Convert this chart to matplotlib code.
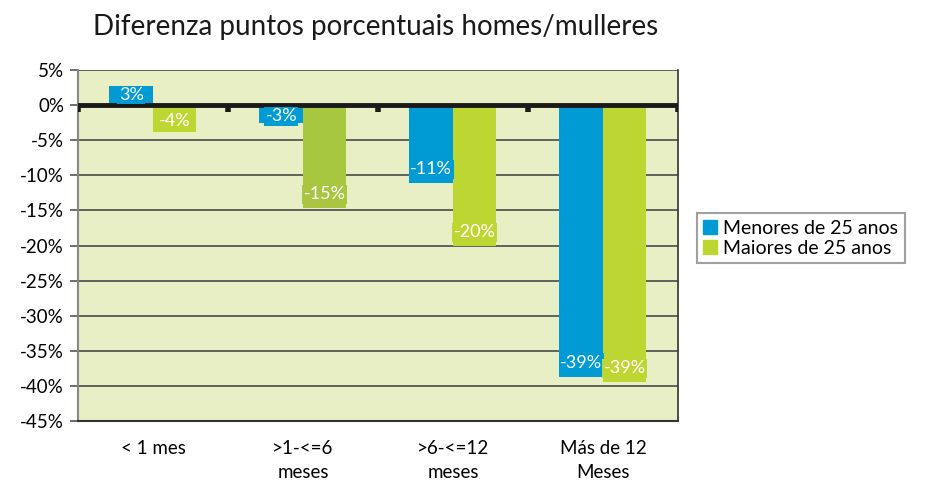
import matplotlib
matplotlib.use("Agg")
import matplotlib.pyplot as plt
import numpy as np
from matplotlib.patches import Patch

plt.rcParams['font.family'] = ['Lato', 'DejaVu Sans']

categories = ["< 1 mes", ">1-<=6\nmeses", ">6-<=12\nmeses", "Más de 12\nMeses"]
menores = [2.7, -2.6, -11.1, -38.7]
maiores = [-3.8, -14.7, -20.1, -39.5]
menores_labels = ["3%", "-3%", "-11%", "-39%"]
maiores_labels = ["-4%", "-15%", "-20%", "-39%"]
series_names = ["Menores de 25 anos", "Maiores de 25 anos"]
yticks = [5, 0, -5, -10, -15, -20, -25, -30, -35, -40, -45]

blue = "#009bd5"
green = "#bdd631"
green_dark = "#a6c73f"
maiores_colors = [green, green_dark, green, green]

fig = plt.figure(figsize=(9.25, 4.86), dpi=100)
ax = fig.add_axes([0.0843, 0.1337, 0.6486, 0.722])
ax.set_facecolor("#e8efc5")

x = np.arange(len(categories))
w = 0.29
b1 = ax.bar(x - w / 2, menores, w, color=blue, label=series_names[0], zorder=3)
b2 = ax.bar(x + w / 2, maiores, w, color=maiores_colors, label=series_names[1], zorder=3)

ax.set_xlim(-0.5, len(categories) - 0.5)
ax.set_ylim(-45, 5)
ax.set_yticks(yticks)
ax.set_yticklabels([f"{t}%" for t in yticks], fontsize=13.5)
ax.yaxis.grid(True, color="#4a4a4a", linewidth=1.2, zorder=1)
ax.set_axisbelow(True)
ax.tick_params(axis='y', length=6, width=1.2, color="#555555", pad=4)

ax.set_xticks(x)
ax.set_xticklabels(categories, fontsize=13.5, linespacing=1.45)
ax.tick_params(axis='x', length=0, pad=14)

ax.axhline(0, color="#1a1a1a", linewidth=3.5, zorder=4)
for b in np.arange(-0.5, len(categories)):
    ax.plot([b, b], [0, -1.0], color="#1a1a1a", linewidth=4, zorder=4, solid_capstyle='butt')

ax.spines['top'].set_visible(False)
ax.spines['left'].set_color("#888888")
ax.spines['left'].set_linewidth(1.5)
ax.spines['right'].set_color("#333333")
ax.spines['right'].set_linewidth(1.2)
ax.spines['bottom'].set_color("#333333")
ax.spines['bottom'].set_linewidth(1.5)


def label_bars(bars, labels, colors):
    for rect, lab, c in zip(bars, labels, colors):
        h = rect.get_height()
        xc = rect.get_x() + rect.get_width() / 2
        if h >= 0:
            y = h / 2 + 0.1
        else:
            y = min(h + 2.0, h / 2 - 0.3)
        ax.text(xc, y, lab, ha='center', va='center', color='white', fontsize=13, zorder=6,
                bbox=dict(boxstyle='square,pad=0.08', fc=c, ec='none'))


label_bars(b1, menores_labels, [blue] * 4)
label_bars(b2, maiores_labels, maiores_colors)

fig.text(0.101, 0.945, "Diferenza puntos porcentuais homes/mulleres", fontsize=20,
         ha='left', va='center', color="#1a1a1a")

handles = [Patch(color=blue), Patch(color=green)]
leg = fig.legend(handles, series_names, loc='upper left', bbox_to_anchor=(0.753, 0.562),
                 fontsize=14, frameon=True, fancybox=False, edgecolor="#888888",
                 handlelength=0.7, handleheight=0.7, handletextpad=0.3, borderpad=0.35,
                 labelspacing=0.15, borderaxespad=0)
leg.get_frame().set_linewidth(1.5)

fig.savefig("out.png", dpi=100)
